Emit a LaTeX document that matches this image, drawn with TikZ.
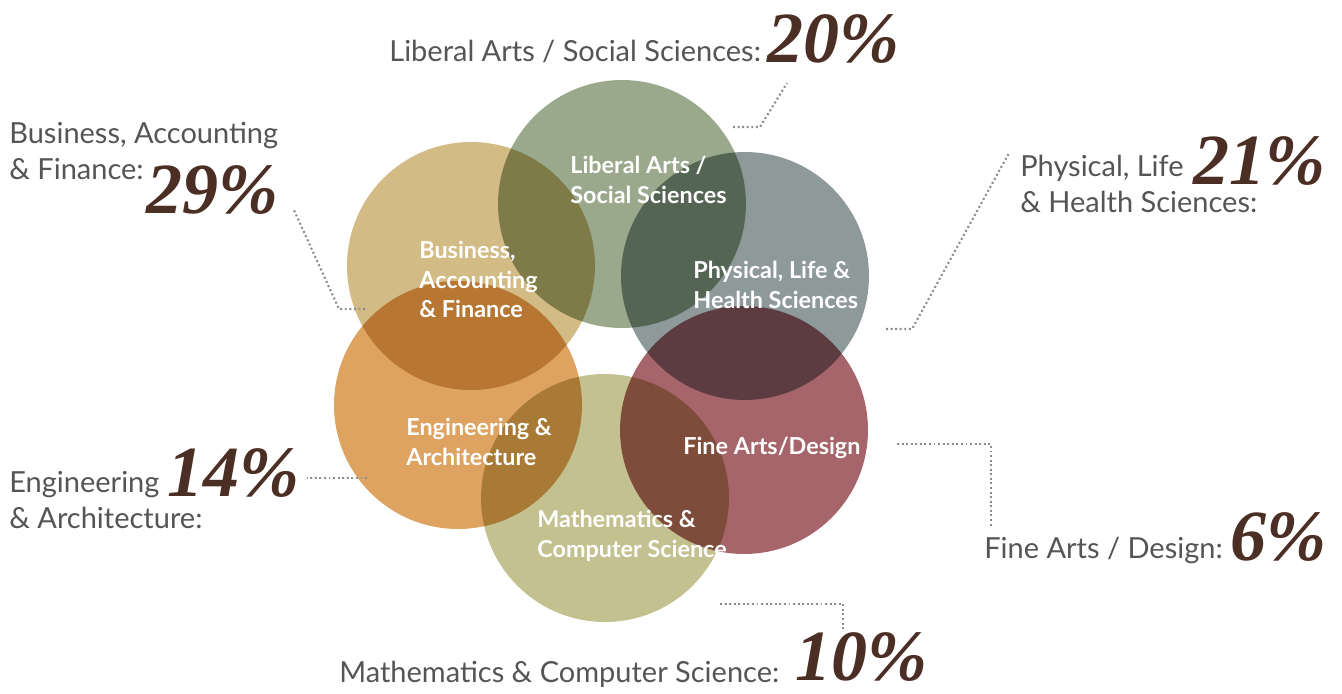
\documentclass[tikz,border=0pt]{standalone}
\usepackage{fontspec}
\setmainfont{Lato}
\newfontfamily\pctfont{Liberation Serif}
\usetikzlibrary{positioning}
\usetikzlibrary{calc}

\definecolor{lagreen}{HTML}{9AA98C}
\definecolor{phgrey}{HTML}{8E999A}
\definecolor{butan}{HTML}{D3BB85}
\definecolor{enorange}{HTML}{DEA261}
\definecolor{maolive}{HTML}{C3C18F}
\definecolor{farose}{HTML}{A6656A}
\definecolor{labelgrey}{HTML}{555555}
\definecolor{pctbrown}{HTML}{4B2E24}
\definecolor{dotgrey}{HTML}{8C8C8C}

\tikzset{
  disc/.style={circle, inner sep=0pt, minimum size=4.96cm, blend mode=multiply},
  inlabel/.style={text=white, align=left, anchor=north west, inner sep=0pt,
    font=\bfseries\fontsize{13.3}{16.7}\selectfont},
  outlabel/.style={text=labelgrey, align=left, inner sep=0pt,
    font=\fontsize{16.5}{20.4}\selectfont},
  pct/.style={text=pctbrown, anchor=base west, inner sep=0pt,
    font=\pctfont\bfseries\itshape\fontsize{41}{41}\selectfont},
  leader/.style={draw=dotgrey, line width=1.2pt, dash pattern=on 1.1pt off 1.5pt}
}

\begin{document}
\begin{tikzpicture}[x=0.02cm, y=-0.02cm]
  \path[use as bounding box, fill=white] (0,0) rectangle (1342,693);

  % the six fields
  \node[disc, fill=lagreen] (la) at (622,204) {};
  \node[disc, fill=phgrey] (ph) at (745,276) {};
  \node[disc, fill=butan] (bu) at (471,266) {};
  \node[disc, fill=enorange] (en) at (458,405) {};
  \node[disc, fill=maolive] (ma) at (605,498) {};
  \node[disc, fill=farose] (fa) at (744,430) {};

  \node[inlabel] (laIn) at (570,156) {Liberal Arts /\\Social Sciences};
  \node[inlabel] (buIn) at (419,241) {Business,\\Accounting\\\& Finance};
  \node[inlabel] (phIn) at (693,261) {Physical, Life \&\\Health Sciences};
  \node[inlabel] (enIn) at (406,418) {Engineering \&\\Architecture};
  \node[inlabel] (faIn) at (683,437) {Fine Arts/Design};
  \node[inlabel] (maIn) at (537,510) {Mathematics \&\\Computer Science};

  % shares
  \node[outlabel, anchor=base west] (laOut) at (389,61) {Liberal Arts / Social Sciences:};
  \node[pct] (laPct) at (767,62) {20\%};
  \node[outlabel, anchor=north west] (buOut) at (9,122) {Business, Accounting\\\& Finance:};
  \node[pct] (buPct) at (146,213) {29\%};
  \node[outlabel, anchor=north west] (phOut) at (1020,155) {Physical, Life\\\& Health Sciences:};
  \node[pct] (phPct) at (1193,184) {21\%};
  \node[outlabel, anchor=north west] (enOut) at (9,471) {Engineering\\\& Architecture:};
  \node[pct] (enPct) at (167,496) {14\%};
  \node[outlabel, anchor=base west] (faOut) at (984,558) {Fine Arts / Design:};
  \node[pct] (faPct) at (1230,560) {6\%};
  \node[outlabel, anchor=base west] (maOut) at (339,682) {Mathematics \& Computer Science:};
  \node[pct] (maPct) at (795,680) {10\%};

  % leaders
  \coordinate (laA) at (733,127);
  \coordinate (laB) at (787,83);
  \coordinate (buA) at (365,309);
  \coordinate (buB) at (293,208);
  \coordinate (phA) at (886,329);
  \coordinate (phB) at (1009,153);
  \coordinate (enA) at (367,478);
  \coordinate (enB) at (307,478);
  \coordinate (faA) at (897,444);
  \coordinate (faB) at (991,526);
  \coordinate (maA) at (720,604);
  \coordinate (maB) at (843,630);

  \draw[leader] (laA) -- ++(27,0) -- (laB);
  \draw[leader] (buA) -- ++(-26,0) -- (buB);
  \draw[leader] (phA) -- ++(26,0) -- (phB);
  \draw[leader] (enA) -- (enB);
  \draw[leader] (faA) -| (faB);
  \draw[leader] (maA) -| (maB);
\end{tikzpicture}
\end{document}
